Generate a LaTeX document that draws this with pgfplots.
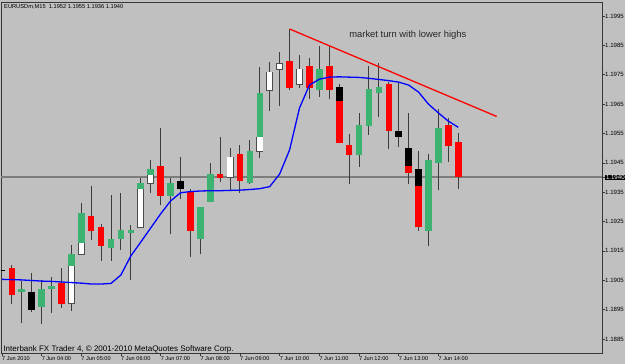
\documentclass[border=0pt]{standalone}
\usepackage{fontspec}
\setmainfont{Liberation Sans}
\usepackage{pgfplots}
\usepackage{pgfplotstable}
\pgfplotsset{compat=1.18}
\definecolor{bg}{RGB}{192,192,192}
\definecolor{mtgreen}{RGB}{60,179,113}
\definecolor{wick}{RGB}{60,60,60}
\definecolor{frame}{RGB}{55,55,55}
\definecolor{hline}{RGB}{125,125,125}

% k = bar index (M15 bars, k=0 is 03:00), O H L C, S = level where body colour changes
\pgfplotstableread{
k O H L C S
0 1.19085 1.19091 1.18977 1.19081 1.19081
1 1.19091 1.19102 1.18968 1.19000 1.19091
2 1.19010 1.19047 1.18905 1.19019 1.19010
3 1.19011 1.19073 1.18942 1.18949 1.18949
4 1.18960 1.19051 1.18900 1.19020 1.18960
5 1.19019 1.19060 1.18939 1.19031 1.19019
6 1.19042 1.19091 1.18957 1.18970 1.19042
7 1.18971 1.19170 1.18946 1.19139 1.19100
8 1.19139 1.19312 1.19136 1.19280 1.19178
9 1.19270 1.19371 1.19187 1.19219 1.19270
10 1.19230 1.19242 1.19117 1.19168 1.19230
11 1.19161 1.19340 1.19117 1.19190 1.19161
12 1.19189 1.19348 1.19153 1.19221 1.19189
13 1.19210 1.19238 1.19051 1.19221 1.19210
14 1.19230 1.19397 1.19228 1.19380 1.19360
15 1.19380 1.19460 1.19346 1.19429 1.19408
16 1.19440 1.19568 1.19306 1.19338 1.19440
17 1.19338 1.19397 1.19206 1.19381 1.19338
18 1.19387 1.19469 1.19328 1.19360 1.19360
19 1.19351 1.19360 1.19128 1.19219 1.19351
20 1.19190 1.19300 1.19139 1.19300 1.19190
21 1.19318 1.19450 1.19315 1.19411 1.19318
22 1.19411 1.19539 1.19386 1.19399 1.19411
23 1.19401 1.19499 1.19357 1.19469 1.19469
24 1.19480 1.19511 1.19346 1.19388 1.19480
25 1.19380 1.19528 1.19378 1.19490 1.19380
26 1.19490 1.19777 1.19465 1.19689 1.19537
27 1.19698 1.19793 1.19627 1.19758 1.19758
28 1.19768 1.19826 1.19644 1.19788 1.19788
29 1.19798 1.19906 1.19698 1.19706 1.19798
30 1.19717 1.19817 1.19704 1.19768 1.19768
31 1.19780 1.19807 1.19666 1.19706 1.19780
32 1.19698 1.19848 1.19675 1.19768 1.19698
33 1.19780 1.19848 1.19666 1.19698 1.19780
34 1.19707 1.19718 1.19516 1.19518 1.19660
35 1.19510 1.19548 1.19378 1.19478 1.19510
36 1.19477 1.19619 1.19437 1.19579 1.19477
37 1.19576 1.19780 1.19545 1.19700 1.19576
38 1.19687 1.19789 1.19605 1.19707 1.19687
39 1.19718 1.19725 1.19496 1.19559 1.19718
40 1.19559 1.19721 1.19505 1.19537 1.19537
41 1.19500 1.19619 1.19378 1.19416 1.19440
42 1.19429 1.19491 1.19219 1.19230 1.19371
43 1.19219 1.19479 1.19167 1.19460 1.19219
44 1.19448 1.19632 1.19356 1.19570 1.19448
45 1.19579 1.19603 1.19454 1.19507 1.19579
46 1.19520 1.19550 1.19360 1.19400 1.19520
}\candles

\pgfplotstableread{
k ma
0 1.19053
1 1.19052
2 1.19051
3 1.19049
4 1.19047
5 1.19046
6 1.19044
7 1.19042
8 1.19040
9 1.19037
10 1.19037
11 1.19039
12 1.19068
13 1.19133
14 1.19180
15 1.19228
16 1.19276
17 1.19320
18 1.19348
19 1.19352
20 1.19354
21 1.19355
22 1.19355
23 1.19356
24 1.19357
25 1.19359
26 1.19362
27 1.19369
28 1.19412
29 1.19494
30 1.19637
31 1.19715
32 1.19735
33 1.19742
34 1.19743
35 1.19742
36 1.19741
37 1.19738
38 1.19734
39 1.19730
40 1.19725
41 1.19715
42 1.19691
43 1.19650
44 1.19620
45 1.19592
46 1.19571
}\matable

\pgfplotsset{candlepart/.style={draw=none, mark=none, forget plot,
  error bars/.cd, y dir=plus, y explicit, error mark=none}}

\begin{document}
\begin{tikzpicture}[x=1pt,y=1pt]
\path[use as bounding box, fill=bg] (0,0) rectangle (625,364);
\begin{axis}[
  at={(1pt,11pt)}, anchor=south west,
  scale only axis, width=601pt, height=351pt,
  xmin=-0.09, xmax=60.49, ymin=1.18802, ymax=1.19998,
  axis background/.style={fill=bg},
  axis line style={draw=frame, line width=0.9pt},
  tick align=outside,
  xtick pos=bottom, ytick pos=right,
  scaled x ticks=false, scaled y ticks=false,
  xtick={0,4,8,12,16,20,24,28,32,36,40,44},
  xticklabels={7 Jun 2010,7 Jun 04:00,7 Jun 05:00,7 Jun 06:00,7 Jun 07:00,7 Jun 08:00,7 Jun 09:00,7 Jun 10:00,7 Jun 11:00,7 Jun 12:00,7 Jun 13:00,7 Jun 14:00},
  ytick={1.1885,1.1895,1.1905,1.1915,1.1925,1.1935,1.1945,1.1955,1.1965,1.1975,1.1985,1.1995},
  yticklabels={1.1885,1.1895,1.1905,1.1915,1.1925,1.1935,1.1945,1.1955,1.1965,1.1975,1.1985,1.1995},
  x tick style={draw=frame, line width=0.6pt},
  y tick style={draw=frame, line width=0.6pt},
  major tick length=3pt,
  /pgf/number format/assume math mode=true,
  xticklabel style={anchor=north west, inner sep=0pt, font=\fontsize{5.6}{6.5}\selectfont},
  yticklabel style={anchor=west, inner sep=0pt, font=\fontsize{6.1}{7}\selectfont},
  extra y ticks={1.1940},
  extra y tick labels={\colorbox{black}{\textcolor{white}{1.1940}}},
  extra y tick style={grid=major, major grid style={draw=hline, line width=2pt},
     tick style={draw=none}},
  clip=true,
]
\setlength{\fboxsep}{0.8pt}
% wicks
\addplot[candlepart, error bar style={draw=wick, line width=1pt}]
  table[x=k, y=L, y error expr=\thisrow{H}-\thisrow{L}] {\candles};
% outline of white parts
\addplot[candlepart, error bar style={draw=black!70, line width=7pt, line cap=butt}]
  table[x=k, y expr=\thisrow{O}-0.00002, y error expr={(\thisrow{S}>\thisrow{O}) ? (\thisrow{S}-\thisrow{O}+0.00004) : 0}] {\candles};
% white parts (bull)
\addplot[candlepart, error bar style={draw=white, line width=5.4pt, line cap=butt}]
  table[x=k, y=O, y error expr={max(\thisrow{S}-\thisrow{O},0)}] {\candles};
% green parts (bull)
\addplot[candlepart, error bar style={draw=mtgreen, line width=6.6pt, line cap=butt}]
  table[x=k, y=S, y error expr={max(\thisrow{C}-\thisrow{S},0)}] {\candles};
% red parts (bear)
\addplot[candlepart, error bar style={draw=red, line width=6.6pt, line cap=butt}]
  table[x=k, y=C, y error expr={max(\thisrow{S}-\thisrow{C},0)}] {\candles};
% black parts (bear)
\addplot[candlepart, error bar style={draw=black, line width=6.6pt, line cap=butt}]
  table[x=k, y=S, y error expr={max(\thisrow{O}-\thisrow{S},0)}] {\candles};
% moving average
\addplot[draw=blue, line width=1.3pt, mark=none] table[x=k, y=ma] {\matable};
% trend line of lower highs
\addplot[draw=red, line width=1.3pt, mark=none] coordinates {(29,1.19906) (49.87,1.19608)};

\node[anchor=north west, inner sep=0pt, xshift=3pt, yshift=-2pt,
  font=\fontsize{5.7}{7}\selectfont] at (rel axis cs:0,1)
  {EURUSDm,M15\ \ 1.1952 1.1955 1.1936 1.1940};
\node[anchor=base west, inner sep=0pt, font=\fontsize{9.4}{11}\selectfont, text=black!85]
  at (axis cs:35,1.19876) {market turn with lower highs};
\node[anchor=base west, inner sep=0pt, xshift=2.3pt, yshift=1.5pt,
  font=\fontsize{8}{9}\selectfont] at (rel axis cs:0,0)
  {Interbank FX Trader 4, © 2001-2010 MetaQuotes Software Corp.};
\end{axis}
\end{tikzpicture}
\end{document}
